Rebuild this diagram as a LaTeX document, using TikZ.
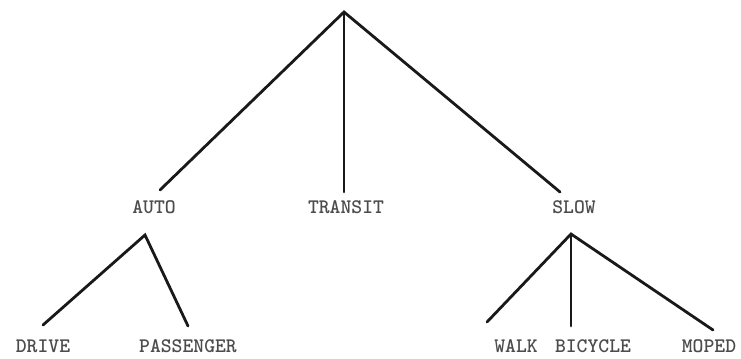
\documentclass[tikz,border=0pt]{standalone}
\usepackage{fontspec}
\begin{document}
\begin{tikzpicture}[x=0.75pt,y=-0.75pt,
  lbl/.style={font=\ttfamily\bfseries\fontsize{15.5}{18}\selectfont, text=black!70, inner sep=0pt, anchor=center},
  edge/.style={line width=2.1pt, line cap=round, black!90}]
\useasboundingbox (0,0) rectangle (741,358);
% level labels
\node[lbl] (auto) at (154,207) {AUTO};
\node[lbl] (transit) at (346,207) {TRANSIT};
\node[lbl] (slow) at (574,207) {SLOW};
\node[lbl] (drive) at (43,346) {DRIVE};
\node[lbl] (passenger) at (188,346) {PASSENGER};
\node[lbl] (walk) at (516,346) {WALK};
\node[lbl] (bicycle) at (593,346) {BICYCLE};
\node[lbl] (moped) at (709,346) {MOPED};
% branch points
\coordinate (root) at (344,12);
\coordinate (aEnd) at (160,190);
\coordinate (tEnd) at (344,192);
\coordinate (sEnd) at (560,192);
\coordinate (aTop) at (145,235);
\coordinate (dEnd) at (43,325);
\coordinate (pEnd) at (188,326);
\coordinate (sTop) at (571,234);
\coordinate (wEnd) at (487,322);
\coordinate (bEnd) at (571,326);
\coordinate (mEnd) at (713,330);
% connectors
\draw[edge] (aEnd) -- (root) -- (sEnd);
\draw[edge] (root) -- (tEnd);
\draw[edge] (dEnd) -- (aTop) -- (pEnd);
\draw[edge] (wEnd) -- (sTop) -- (mEnd);
\draw[edge] (sTop) -- (bEnd);
\end{tikzpicture}
\end{document}
